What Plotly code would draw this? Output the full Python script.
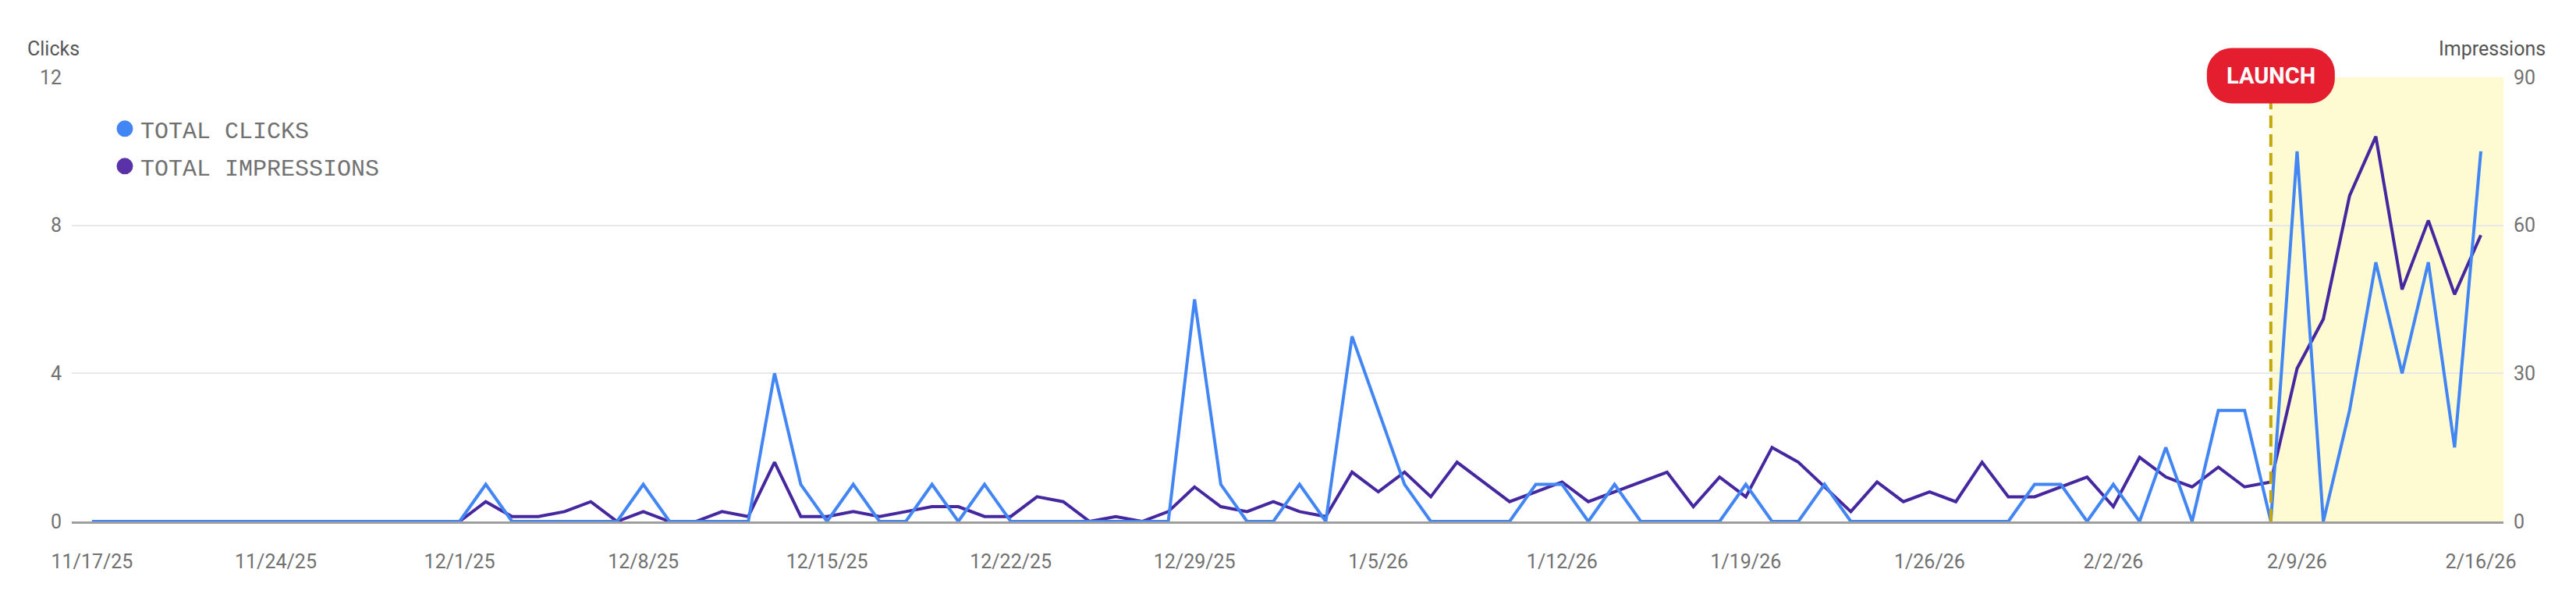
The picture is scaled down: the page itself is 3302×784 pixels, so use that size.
import pandas as pd
import plotly.graph_objects as go

# daily data, 11/17/25 .. 2/16/26
dates = pd.date_range("2025-11-17", "2026-02-16", freq="D")

clicks = [0, 0, 0, 0, 0, 0, 0, 0, 0, 0, 0, 0, 0, 0, 0,
          1, 0, 0, 0, 0, 0, 1, 0, 0, 0, 0, 4, 1, 0, 1,
          0, 0, 1, 0, 1, 0, 0, 0, 0, 0, 0, 0, 6, 1, 0,
          0, 1, 0, 5, 3, 1, 0, 0, 0, 0, 1, 1, 0, 1, 0,
          0, 0, 0, 1, 0, 0, 1, 0, 0, 0, 0, 0, 0, 0, 1,
          1, 0, 1, 0, 2, 0, 3, 3, 0, 10, 0, 3, 7, 4, 7,
          2, 10]

impressions = [0, 0, 0, 0, 0, 0, 0, 0, 0, 0, 0, 0, 0, 0, 0,
               4, 1, 1, 2, 4, 0, 2, 0, 0, 2, 1, 12, 1, 1, 2,
               1, 2, 3, 3, 1, 1, 5, 4, 0, 1, 0, 2, 7, 3, 2,
               4, 2, 1, 10, 6, 10, 5, 12, 8, 4, 6, 8, 4, 6, 8,
               10, 3, 9, 5, 15, 12, 7, 2, 8, 4, 6, 4, 12, 5, 5,
               7, 9, 3, 13, 9, 7, 11, 7, 8, 31, 41, 66, 78, 47, 61,
               46, 58]

launch_date = "2026-02-08"
tick_dates = pd.date_range("2025-11-17", "2026-02-16", freq="7D")
tick_labels = ["11/17/25", "11/24/25", "12/1/25", "12/8/25", "12/15/25", "12/22/25",
               "12/29/25", "1/5/26", "1/12/26", "1/19/26", "1/26/26", "2/2/26",
               "2/9/26", "2/16/26"]
clicks_ticks = [0, 4, 8, 12]
impr_ticks = [0, 30, 60, 90]

BLUE = "#4285F4"
PURPLE = "#4527A0"
PURPLE_DOT = "#5A31A8"
GREY = "#717171"
x_range = ["2025-11-16 05:30", "2026-02-16 20:40"]

fig = go.Figure()
fig.add_trace(go.Scatter(x=dates, y=impressions, mode="lines", name="TOTAL IMPRESSIONS",
                         line=dict(color=PURPLE, width=4), yaxis="y", showlegend=False))
fig.add_trace(go.Scatter(x=dates, y=clicks, mode="lines", name="TOTAL CLICKS",
                         line=dict(color=BLUE, width=4), yaxis="y2", showlegend=False))
# legend dots
fig.add_trace(go.Scatter(x=[None], y=[None], mode="markers", name="TOTAL CLICKS",
                         marker=dict(size=16, color=BLUE, line=dict(color=BLUE, width=5)),
                         legendgroup="a"))
fig.add_trace(go.Scatter(x=[None], y=[None], mode="markers", name="TOTAL IMPRESSIONS",
                         marker=dict(size=16, color=PURPLE_DOT, line=dict(color=PURPLE_DOT, width=5)),
                         legendgroup="b"))

# post-launch highlight + launch marker
fig.add_shape(type="rect", xref="x", yref="paper", x0=launch_date, x1=x_range[1], y0=0, y1=1,
              fillcolor="#FEFBD3", line_width=0, layer="between")
fig.add_shape(type="line", xref="x", yref="paper", x0=launch_date, x1=launch_date, y0=0, y1=0.95,
              line=dict(color="#C4A70A", width=4, dash="16px,8px"))
r, w, h = 32, 82, 35.5
k = r * 0.552
pill = (f"M {-w + r},{-h} L {w - r},{-h} C {w - r + k},{-h} {w},{-h + r - k} {w},{-h + r} "
        f"L {w},{h - r} C {w},{h - r + k} {w - r + k},{h} {w - r},{h} "
        f"L {-w + r},{h} C {-w + r - k},{h} {-w},{h - r + k} {-w},{h - r} "
        f"L {-w},{-h + r} C {-w},{-h + r - k} {-w + r - k},{-h} {-w + r},{-h} Z")
fig.add_shape(type="path", xref="x", yref="paper", xsizemode="pixel", ysizemode="pixel",
              xanchor=launch_date, yanchor=1.0035, path=pill,
              fillcolor="#E41E2F", line_width=0)
fig.add_annotation(x=launch_date, y=1.0035, xref="x", yref="paper", text="LAUNCH",
                   showarrow=False, yanchor="middle",
                   font=dict(family="Roboto", size=29, color="white", weight="bold"))

# axis titles
fig.add_annotation(x=-0.019, y=1.065, xref="paper", yref="paper", text="Clicks", showarrow=False,
                   xanchor="left", yanchor="middle", font=dict(family="Roboto", size=25, color="#555555"))
fig.add_annotation(x=1.018, y=1.065, xref="paper", yref="paper", text="Impressions", showarrow=False,
                   xanchor="right", yanchor="middle", font=dict(family="Roboto", size=25, color="#555555"))

# page body adds an 8px offset, so margins are shifted to compensate
fig.update_layout(
    width=3302, height=784,
    margin=dict(l=84, r=101, t=91, b=124),
    paper_bgcolor="white", plot_bgcolor="white",
    font=dict(family="Roboto", size=25, color=GREY),
    xaxis=dict(type="date", range=x_range, tickvals=tick_dates, ticktext=tick_labels,
               showgrid=False, zeroline=False, showline=True, linecolor="#9E9E9E", linewidth=3,
               ticks="", ticklabelstandoff=27, tickfont=dict(size=25, color=GREY), automargin=False),
    yaxis=dict(side="right", range=[0, 90], tickvals=impr_ticks, showgrid=True,
               gridcolor="#E8E8E8", gridwidth=2, zeroline=False, ticks="",
               ticklabelstandoff=12, tickfont=dict(size=25, color=GREY), automargin=False),
    yaxis2=dict(side="left", overlaying="y", range=[0, 12], tickvals=clicks_ticks,
                showgrid=False, zeroline=False, ticks="", ticklabelstandoff=12,
                tickfont=dict(size=25, color=GREY), automargin=False),
    legend=dict(x=0.0154, y=0.93, xanchor="left", yanchor="top", bgcolor="rgba(0,0,0,0)",
                font=dict(family="Liberation Mono", size=30, color=GREY),
                traceorder="grouped", tracegroupgap=6, itemsizing="trace"),
    showlegend=True,
)

fig.write_html("out.html")
